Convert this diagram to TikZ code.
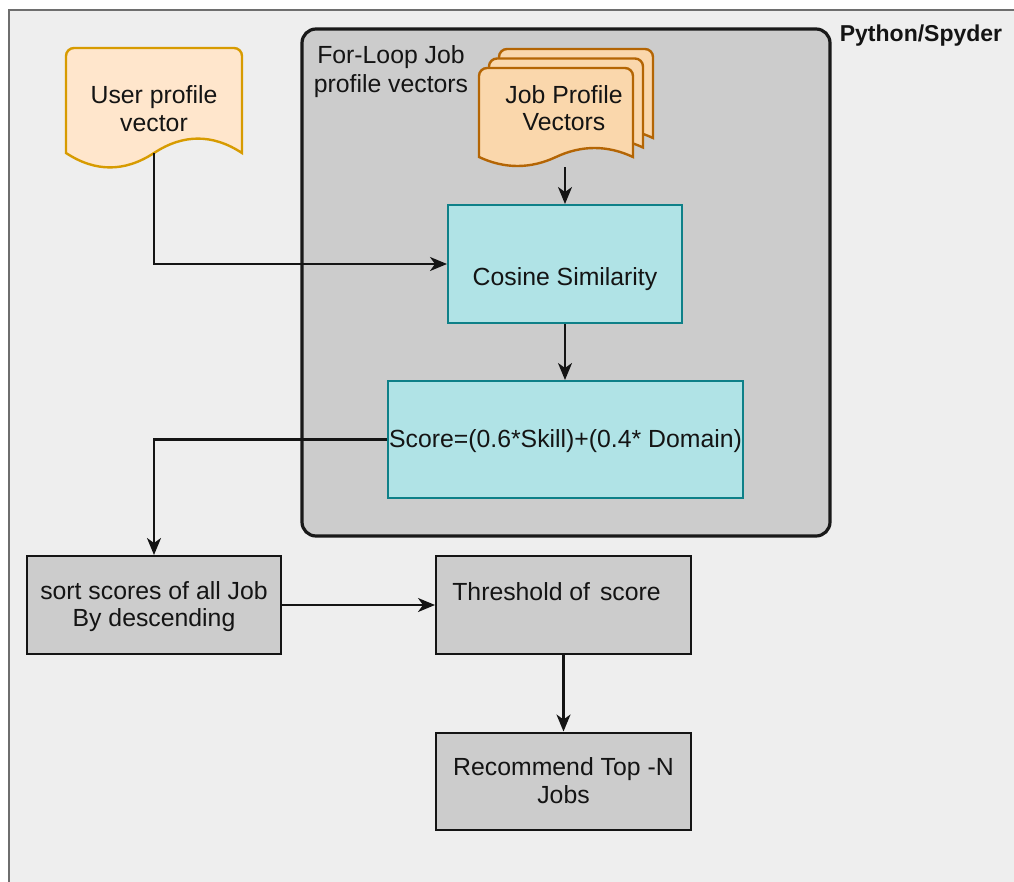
\documentclass[tikz,border=0pt]{standalone}
\usepackage{fontspec}
\setmainfont{Liberation Sans}
\usetikzlibrary{arrows.meta,calc}

\definecolor{framefill}{HTML}{EEEEEE}
\definecolor{framedraw}{HTML}{6E6E6E}
\definecolor{greyfill}{HTML}{CCCCCC}
\definecolor{userfill}{HTML}{FFE6CC}
\definecolor{userdraw}{HTML}{D79B00}
\definecolor{jobfill}{HTML}{FAD7AC}
\definecolor{jobdraw}{HTML}{B46504}
\definecolor{tealfill}{HTML}{B0E3E6}
\definecolor{tealdraw}{HTML}{0E8088}
\definecolor{ink}{HTML}{141414}

% line strut: 27pt line box, text centred in it
\newcommand\sline{\rule[-5pt]{0pt}{27pt}}

% document shape: #1 style, #2 left, #3 top, #4 width, #5 height, #6 wave size
\newcommand\docshape[6]{%
  \pgfmathsetmacro\dsR{#2+#4}%
  \pgfmathsetmacro\dsB{#3+#5-#6/2}%
  \pgfmathsetmacro\dsU{\dsB-0.6*#6}%
  \pgfmathsetmacro\dsD{\dsB+0.6*#6}%
  \draw[#1] (#2,\dsB) -- (#2,#3+8) arc[start angle=180,end angle=90,radius=8pt]
    -- (\dsR-8,#3) arc[start angle=90,end angle=0,radius=8pt]
    -- (\dsR,\dsB)
    .. controls (#2+5*#4/6,\dsU) and (#2+4*#4/6,\dsU) .. (#2+#4/2,\dsB)
    .. controls (#2+2*#4/6,\dsD) and (#2+#4/6,\dsD) .. (#2,\dsB) -- cycle;}

\tikzset{
  txt/.style={font=\fontsize{24.8}{27}\selectfont, text=ink, align=center, inner sep=0pt},
  tealbox/.style={txt, draw=tealdraw, fill=tealfill, line width=2pt},
  greybox/.style={txt, draw=ink, fill=greyfill, line width=2pt},
  container/.style={draw=black!90, fill=greyfill, line width=3.2pt, rounded corners=14pt, inner sep=0pt},
  userdoc/.style={draw=userdraw, fill=userfill, line width=2.4pt},
  jobdoc/.style={draw=jobdraw, fill=jobfill, line width=2.4pt},
  conn/.style={draw=ink, line width=2.2pt, -{Stealth[length=17pt,width=14pt,inset=5pt]}},
}

\begin{document}
\begin{tikzpicture}[x=1pt,y=-1pt]
\useasboundingbox (0,0) rectangle (1014,881);
\clip (0,0) rectangle (1014,881);
\fill[white] (0,0) rectangle (1014,881);

% environment frame
\draw[fill=framefill, draw=framedraw, line width=1.5pt] (9,10) rectangle (1040,910);
\node[txt, font=\bfseries\fontsize{23}{27}\selectfont] (env) at (921,33) {\sline Python/Spyder};

% loop container
\node[container, minimum width=528pt, minimum height=507pt] (loop) at (566,282.5) {};
\node[txt] (looptitle) at (391,69.5) {\sline For-Loop Job\\\sline profile vectors};

% documents
\docshape{jobdoc}{499}{49}{154}{99}{20}
\docshape{jobdoc}{489}{58.5}{154}{99}{20}
\docshape{jobdoc}{479}{68}{154}{99}{20}
\docshape{userdoc}{66}{48}{176}{121}{32}
\node[txt] (user) at (154,109) {\sline User profile\\\sline vector};
\node[txt] (jobs) at (564,108.5) {\sline Job Profile\\\sline Vectors};
\coordinate (user-out) at (154,153);
\coordinate (jobs-out) at (565,167);

% process boxes
\node[tealbox, minimum width=234pt, minimum height=118pt] (cos) at (565,264) {\sline\\\sline Cosine Similarity};
\node[tealbox, minimum width=355pt, minimum height=117pt] (score) at (565.5,439.5) {\sline Score=(0.6*Skill)+(0.4* Domain)};
\node[greybox, minimum width=254pt, minimum height=98pt] (sort) at (154,605) {\sline sort scores of all Job\\\sline By descending};
\node[greybox, minimum width=255pt, minimum height=98pt] (thr) at (563.5,605) {\sline Threshold of\hspace{3pt} score\kern14pt\\\sline};
\node[greybox, minimum width=255pt, minimum height=97pt] (rec) at (563.5,781) {\sline Recommend Top -N\\\sline Jobs};

% connectors
\draw[conn] (user-out) |- (cos.west);
\draw[conn] (jobs-out) -- (jobs-out |- cos.north);
\draw[conn] (cos.south) -- (cos.south |- score.north);
\draw[conn] (score.west) -| (sort.north);
\draw[conn] (sort.east) -- (thr.west);
\draw[conn] (thr.south) -- (rec.north);
\end{tikzpicture}
\end{document}
